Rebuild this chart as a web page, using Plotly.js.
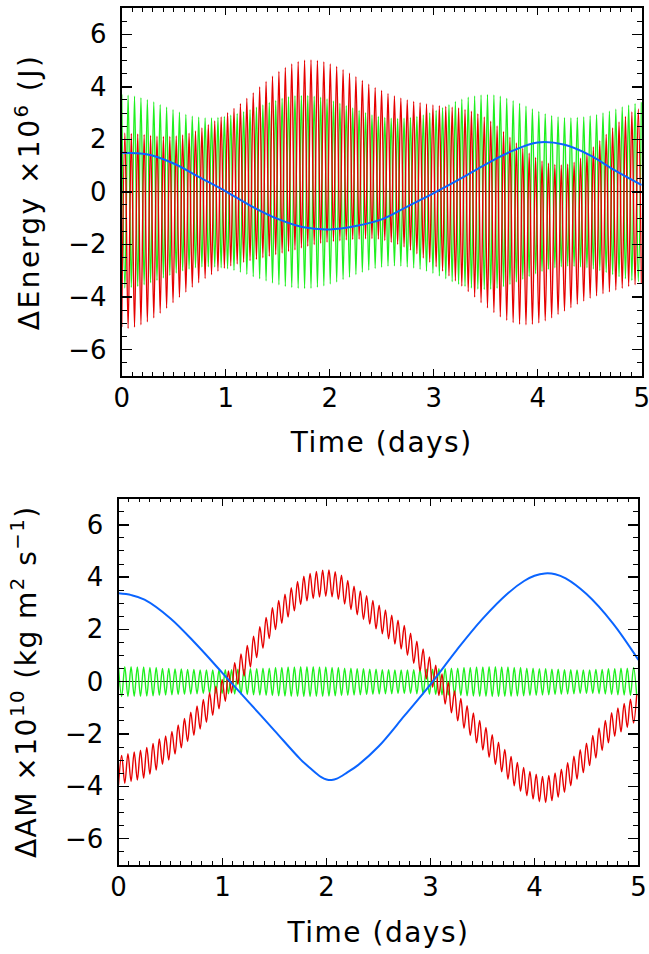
<!DOCTYPE html>
<html>
<head>
<meta charset="utf-8">
<script src="https://cdn.plot.ly/plotly-3.0.1.min.js"></script>
<style>
  html, body { margin: 0; padding: 0; background: #fff; }
  #chart { width: 649px; height: 954px; }
  .xtitle, .x2title, .y2title { letter-spacing: 1.5px; }
  .ytitle { letter-spacing: 2.5px; }
</style>
</head>
<body>
<div id="chart"></div>
<script>
// ---------------- DATA ----------------
const timeTicks = [0, 1, 2, 3, 4, 5];
const valueTicks = [-6, -4, -2, 0, 2, 4, 6];

// Top panel: energy (x10^6 J). Fast oscillation: extrema every half period (days)
const energyHalfPeriod = 0.03085;
// red body: troughs at even extrema (t = 0, 2h, 4h ...), peaks at odd extrema
const redEnergyTroughs = [-5.15, -5.2, -5.15, -5.06, -4.95, -4.8, -4.62, -4.43, -4.22, -4.02,
  -3.82, -3.63, -3.46, -3.3, -3.15, -3.02, -2.91, -2.82, -2.75, -2.68,
  -2.62, -2.57, -2.51, -2.45, -2.39, -2.33, -2.27, -2.21, -2.14, -2.07,
  -2.01, -1.96, -1.92, -1.89, -1.86, -1.83, -1.81, -1.8, -1.79, -1.78,
  -1.8, -1.85, -1.92, -2.0, -2.1, -2.22, -2.36, -2.52, -2.68, -2.85,
  -3.02, -3.2, -3.39, -3.59, -3.8, -4.01, -4.22, -4.42, -4.6, -4.76,
  -4.89, -4.98, -5.04, -5.06, -5.04, -4.99, -4.91, -4.8, -4.67, -4.54,
  -4.41, -4.28, -4.16, -4.05, -3.96, -3.88, -3.81, -3.74, -3.67, -3.6,
  -3.54, -3.48];
const redEnergyPeaks = [2.24, 2.22, 2.2, 2.18, 2.15, 2.12, 2.11, 2.11, 2.13, 2.17,
  2.23, 2.32, 2.43, 2.56, 2.7, 2.85, 3.01, 3.18, 3.36, 3.56,
  3.77, 3.99, 4.2, 4.4, 4.58, 4.74, 4.87, 4.96, 5.01, 5.02,
  5.0, 4.95, 4.87, 4.77, 4.65, 4.52, 4.38, 4.24, 4.1, 3.97,
  3.86, 3.75, 3.65, 3.57, 3.5, 3.44, 3.39, 3.35, 3.31, 3.28,
  3.25, 3.22, 3.19, 3.14, 3.07, 2.97, 2.85, 2.69, 2.51, 2.3,
  2.08, 1.86, 1.66, 1.47, 1.31, 1.18, 1.09, 1.04, 1.02, 1.05,
  1.13, 1.28, 1.48, 1.71, 1.95, 2.19, 2.43, 2.66, 2.87, 3.04,
  3.16];
// green body: peaks at even extrema, troughs at odd extrema
const greenEnergyPeaks = [3.71, 3.68, 3.64, 3.58, 3.51, 3.42, 3.32, 3.22, 3.13, 3.03,
  2.95, 2.88, 2.84, 2.81, 2.81, 2.83, 2.87, 2.92, 2.98, 3.05,
  3.13, 3.22, 3.31, 3.4, 3.48, 3.56, 3.62, 3.66, 3.67, 3.67,
  3.64, 3.6, 3.54, 3.46, 3.37, 3.28, 3.19, 3.1, 3.01, 2.93,
  2.87, 2.83, 2.8, 2.79, 2.8, 2.83, 2.87, 2.93, 3.0, 3.1,
  3.2, 3.32, 3.44, 3.53, 3.6, 3.65, 3.69, 3.71, 3.69, 3.64,
  3.56, 3.47, 3.37, 3.26, 3.16, 3.06, 2.97, 2.9, 2.85, 2.82,
  2.81, 2.83, 2.85, 2.89, 2.94, 3.0, 3.07, 3.15, 3.23, 3.3,
  3.36, 3.41];
const greenEnergyTroughs = [-3.66, -3.64, -3.6, -3.54, -3.46, -3.37, -3.28, -3.18, -3.09, -3.01,
  -2.94, -2.89, -2.86, -2.85, -2.86, -2.89, -2.93, -2.99, -3.06, -3.14,
  -3.23, -3.31, -3.39, -3.47, -3.54, -3.6, -3.64, -3.67, -3.68, -3.67,
  -3.63, -3.58, -3.51, -3.43, -3.34, -3.25, -3.15, -3.06, -2.98, -2.92,
  -2.87, -2.83, -2.82, -2.83, -2.86, -2.9, -2.95, -3.02, -3.1, -3.2,
  -3.31, -3.42, -3.52, -3.6, -3.66, -3.7, -3.72, -3.71, -3.67, -3.61,
  -3.53, -3.43, -3.33, -3.22, -3.12, -3.03, -2.95, -2.89, -2.85, -2.83,
  -2.84, -2.86, -2.89, -2.94, -3.0, -3.07, -3.15, -3.23, -3.31, -3.37,
  -3.42];
// blue (slow) energy curve, every 0.25 day
const energySlowTimes = [0, 0.25, 0.5, 0.75, 1, 1.25, 1.5, 1.75, 2, 2.25, 2.5,
  2.75, 3, 3.25, 3.5, 3.75, 4, 4.25, 4.5, 4.75, 5];
const blueEnergy = [1.49, 1.42, 1.08, 0.55, 0.02, -0.55, -1.03, -1.35, -1.43, -1.3, -1.05,
  -0.55, -0.05, 0.48, 1.05, 1.55, 1.88, 1.8, 1.4, 0.8, 0.26];

// Bottom panel: angular momentum (x10^10 kg m^2 s^-1)
const amHalfPeriod = 0.0302;
// red: troughs at even extrema, peaks at odd extrema
const redAMTroughs = [-3.95, -3.89, -3.82, -3.76, -3.69, -3.54, -3.38, -3.16, -3.0, -2.77,
  -2.53, -2.29, -2.05, -1.81, -1.55, -1.29, -1.04, -0.75, -0.43, -0.1,
  0.22, 0.56, 0.92, 1.28, 1.65, 1.99, 2.23, 2.47, 2.71, 2.95,
  3.09, 3.18, 3.24, 3.27, 3.25, 3.15, 2.97, 2.76, 2.56, 2.38,
  2.2, 2.02, 1.83, 1.64, 1.44, 1.25, 1.01, 0.7, 0.4, 0.1,
  -0.21, -0.53, -0.86, -1.19, -1.5, -1.78, -2.06, -2.34, -2.61, -2.89,
  -3.17, -3.45, -3.73, -3.98, -4.19, -4.36, -4.49, -4.59, -4.62, -4.55,
  -4.42, -4.23, -3.98, -3.73, -3.48, -3.21, -2.92, -2.63, -2.34, -2.09,
  -1.92, -1.75, -1.58];
const redAMPeaks = [-2.82, -2.75, -2.69, -2.62, -2.52, -2.36, -2.19, -2.08, -1.9, -1.65,
  -1.41, -1.17, -0.93, -0.68, -0.42, -0.17, 0.09, 0.41, 0.73, 1.06,
  1.39, 1.74, 2.1, 2.46, 2.83, 3.11, 3.35, 3.59, 3.83, 4.03,
  4.14, 4.22, 4.26, 4.27, 4.21, 4.07, 3.87, 3.65, 3.47, 3.29,
  3.11, 2.93, 2.74, 2.54, 2.35, 2.15, 1.85, 1.55, 1.25, 0.95,
  0.63, 0.3, -0.02, -0.35, -0.64, -0.92, -1.2, -1.48, -1.75, -2.03,
  -2.31, -2.59, -2.86, -3.09, -3.28, -3.43, -3.54, -3.62, -3.59, -3.49,
  -3.35, -3.1, -2.85, -2.6, -2.35, -2.06, -1.77, -1.48, -1.19, -1.0,
  -0.83, -0.67, -0.5];
// green: peaks at even extrema, troughs at odd extrema
const greenAMPeaks = [0.57, 0.57, 0.57, 0.56, 0.56, 0.54, 0.54, 0.51, 0.51, 0.49,
  0.49, 0.47, 0.47, 0.45, 0.45, 0.45, 0.45, 0.46, 0.46, 0.48,
  0.48, 0.5, 0.5, 0.52, 0.52, 0.54, 0.54, 0.56, 0.56, 0.57,
  0.57, 0.57, 0.56, 0.56, 0.54, 0.54, 0.52, 0.52, 0.5, 0.5,
  0.48, 0.48, 0.46, 0.46, 0.45, 0.45, 0.45, 0.46, 0.46, 0.48,
  0.48, 0.5, 0.5, 0.52, 0.52, 0.54, 0.54, 0.56, 0.56, 0.57,
  0.57, 0.56, 0.56, 0.54, 0.54, 0.52, 0.52, 0.5, 0.5, 0.48,
  0.48, 0.46, 0.46, 0.45, 0.45, 0.45, 0.47, 0.47, 0.5, 0.5,
  0.52, 0.52, 0.54];
const greenAMTroughs = [-0.57, -0.57, -0.56, -0.56, -0.55, -0.54, -0.52, -0.51, -0.5, -0.49,
  -0.48, -0.47, -0.46, -0.45, -0.45, -0.45, -0.45, -0.46, -0.47, -0.48,
  -0.49, -0.5, -0.51, -0.52, -0.53, -0.54, -0.55, -0.56, -0.56, -0.57,
  -0.57, -0.56, -0.56, -0.55, -0.54, -0.53, -0.52, -0.51, -0.5, -0.49,
  -0.48, -0.47, -0.46, -0.46, -0.45, -0.45, -0.45, -0.46, -0.47, -0.48,
  -0.49, -0.5, -0.51, -0.52, -0.53, -0.54, -0.55, -0.56, -0.56, -0.57,
  -0.57, -0.56, -0.56, -0.55, -0.54, -0.53, -0.52, -0.51, -0.5, -0.49,
  -0.48, -0.47, -0.46, -0.45, -0.45, -0.45, -0.46, -0.47, -0.49, -0.5,
  -0.51, -0.52, -0.54];
// blue (slow) angular momentum curve
const amSlowTimes = [0, 0.125, 0.25, 0.5, 0.75, 1, 1.25, 1.5, 1.75, 1.85, 1.9, 1.95, 2, 2.05, 2.1,
  2.2, 2.3, 2.5, 2.75, 3, 3.25, 3.5, 3.75, 3.9, 4, 4.1, 4.2, 4.3, 4.5, 4.75, 5];
const blueAM = [3.38, 3.31, 3.14, 2.42, 1.42, 0.33, -0.77, -1.87, -2.97, -3.33, -3.5, -3.65, -3.74, -3.76, -3.71,
  -3.47, -3.2, -2.48, -1.3, -0.1, 1.2, 2.4, 3.4, 3.85, 4.05, 4.14, 4.11, 3.95, 3.35, 2.25, 0.83];

// ---------------- BUILD ----------------
function interleave(evenVals, oddVals, half) {
  const x = [], y = [];
  const n = evenVals.length + oddVals.length;
  for (let i = 0; i < n; i++) {
    const v = (i % 2 === 0) ? evenVals[i / 2] : oddVals[(i - 1) / 2];
    if (v === undefined) break;
    x.push(i * half);
    y.push(v);
  }
  return {x, y};
}

const RED = '#e60000', GREEN = '#1ef01e', BLUE = '#0a64ff';
const FONT = 'DejaVu Sans, Liberation Sans, sans-serif';

const rE = interleave(redEnergyTroughs, redEnergyPeaks, energyHalfPeriod);
const gE = interleave(greenEnergyPeaks, greenEnergyTroughs, energyHalfPeriod);
const rA = interleave(redAMTroughs, redAMPeaks, amHalfPeriod);
const gA = interleave(greenAMPeaks, greenAMTroughs, amHalfPeriod);

const traces = [
  {x: gE.x, y: gE.y, xaxis: 'x', yaxis: 'y', mode: 'lines', line: {color: GREEN, width: 1.4, shape: 'spline'}, hoverinfo: 'skip'},
  {x: rE.x, y: rE.y, xaxis: 'x', yaxis: 'y', mode: 'lines', line: {color: RED, width: 1.4, shape: 'spline'}, hoverinfo: 'skip'},
  {x: energySlowTimes, y: blueEnergy, xaxis: 'x', yaxis: 'y', mode: 'lines', line: {color: BLUE, width: 2, shape: 'spline', smoothing: 1}, hoverinfo: 'skip'},
  {x: gA.x, y: gA.y, xaxis: 'x2', yaxis: 'y2', mode: 'lines', line: {color: GREEN, width: 1.4, shape: 'spline'}, hoverinfo: 'skip'},
  {x: rA.x, y: rA.y, xaxis: 'x2', yaxis: 'y2', mode: 'lines', line: {color: RED, width: 1.4, shape: 'spline'}, hoverinfo: 'skip'},
  {x: amSlowTimes, y: blueAM, xaxis: 'x2', yaxis: 'y2', mode: 'lines', line: {color: BLUE, width: 2, shape: 'spline', smoothing: 1}, hoverinfo: 'skip'}
];

function xAxis(domain, anchor, standoff) {
  return {
    domain: domain, anchor: anchor, range: [0, 5],
    tickvals: timeTicks, ticks: 'inside', ticklen: 7, tickwidth: 1.5, tickcolor: '#000',
    minor: {dtick: 0.1, ticks: 'inside', ticklen: 3.5, tickwidth: 1, tickcolor: '#000', showgrid: false},
    showline: true, linecolor: '#000', linewidth: 2, mirror: 'ticks',
    showgrid: false, zeroline: false,
    tickfont: {family: FONT, size: 26, color: '#000'},
    ticklabelstandoff: -2, ticklabeloverflow: 'allow',
    title: {text: 'Time (days)', font: {family: FONT, size: 28, color: '#000'}, standoff: standoff}
  };
}
function yAxis(domain, anchor, title) {
  return {
    domain: domain, anchor: anchor, range: [-7, 7],
    tickvals: valueTicks, ticks: 'inside', ticklen: 10, tickwidth: 1.5, tickcolor: '#000',
    minor: {dtick: 0.5, ticks: 'inside', ticklen: 5, tickwidth: 1, tickcolor: '#000', showgrid: false},
    showline: true, linecolor: '#000', linewidth: 2, mirror: 'ticks',
    showgrid: false, zeroline: true, zerolinecolor: '#222', zerolinewidth: 1.2,
    tickfont: {family: FONT, size: 26, color: '#000'},
    ticklabelstandoff: 8, ticklabeloverflow: 'allow',
    title: {text: title, font: {family: FONT, size: 28, color: '#000'}, standoff: 20}
  };
}

const layout = {
  width: 649, height: 954,
  margin: {l: 0, r: 0, t: 0, b: 0},
  paper_bgcolor: '#fff', plot_bgcolor: '#fff',
  showlegend: false,
  xaxis: xAxis([0.1875, 0.9888], 'y', 21),
  yaxis: yAxis([0.6062, 0.9916], 'x', 'ΔEnergy ×10<sup>6</sup> (J)'),
  xaxis2: xAxis([0.1826, 0.9838], 'y2', 21),
  yaxis2: yAxis([0.0936, 0.4773], 'x2', 'ΔAM ×10<sup>10</sup> (kg m<sup>2</sup> s<sup>−1</sup>)')
};

Plotly.newPlot('chart', traces, layout, {staticPlot: true, displayModeBar: false});
</script>
</body>
</html>
